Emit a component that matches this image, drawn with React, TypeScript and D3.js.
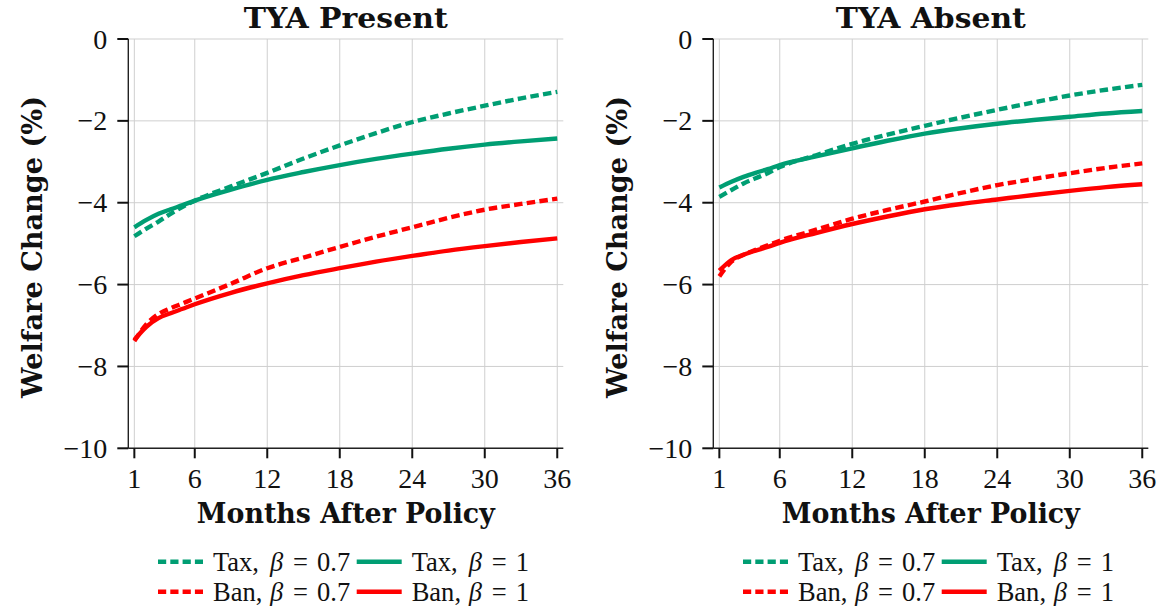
import React from "react";
import * as d3 from "d3";

const months = [1, 2, 3, 4, 5, 6, 9, 12, 15, 18, 21, 24, 27, 30, 33, 36];

// TYA Present
const presentTax07 = [-4.82, -4.63, -4.46, -4.27, -4.1, -3.95, -3.6, -3.27, -2.92, -2.6, -2.3, -2.03, -1.82, -1.63, -1.45, -1.29];
const presentTax1 = [-4.6, -4.42, -4.27, -4.16, -4.06, -3.95, -3.68, -3.44, -3.25, -3.08, -2.93, -2.8, -2.68, -2.58, -2.5, -2.43];
const presentBan07 = [-7.38, -6.97, -6.72, -6.58, -6.46, -6.34, -5.98, -5.6, -5.34, -5.08, -4.83, -4.6, -4.37, -4.17, -4.03, -3.9];
const presentBan1 = [-7.35, -7.03, -6.82, -6.7, -6.59, -6.48, -6.2, -5.97, -5.77, -5.6, -5.44, -5.3, -5.17, -5.06, -4.96, -4.87];

// TYA Absent
const absentTax07 = [-3.86, -3.69, -3.53, -3.4, -3.28, -3.13, -2.84, -2.56, -2.33, -2.12, -1.92, -1.73, -1.55, -1.38, -1.24, -1.12];
const absentTax1 = [-3.63, -3.49, -3.37, -3.27, -3.18, -3.08, -2.87, -2.67, -2.48, -2.31, -2.18, -2.07, -1.98, -1.9, -1.82, -1.76];
const absentBan07 = [-5.8, -5.44, -5.27, -5.15, -5.04, -4.93, -4.66, -4.39, -4.17, -3.97, -3.76, -3.57, -3.42, -3.28, -3.15, -3.04];
const absentBan1 = [-5.66, -5.4, -5.27, -5.17, -5.08, -4.98, -4.74, -4.52, -4.33, -4.16, -4.03, -3.92, -3.81, -3.71, -3.62, -3.55];

const panelTitles = ["TYA Present", "TYA Absent"];
const xTicks = [1, 6, 12, 18, 24, 30, 36];
const yTicks = [0, -2, -4, -6, -8, -10];
const seriesNames = ["Tax", "Tax", "Ban", "Ban"];
const seriesBetas = ["0.7", "1", "0.7", "1"];

const GREEN = "#009E73";
const RED = "#FF0000";

type Series = { values: number[]; color: string; dashed: boolean; name: string; beta: string };

const makeSeries = (a: number[], b: number[], c: number[], d: number[]): Series[] => [
  { values: a, color: GREEN, dashed: true, name: seriesNames[0], beta: seriesBetas[0] },
  { values: b, color: GREEN, dashed: false, name: seriesNames[1], beta: seriesBetas[1] },
  { values: c, color: RED, dashed: true, name: seriesNames[2], beta: seriesBetas[2] },
  { values: d, color: RED, dashed: false, name: seriesNames[3], beta: seriesBetas[3] },
];

const panels = [
  { title: panelTitles[0], series: makeSeries(presentTax07, presentTax1, presentBan07, presentBan1) },
  { title: panelTitles[1], series: makeSeries(absentTax07, absentTax1, absentBan07, absentBan1) },
];

const REG = "Liberation Serif, Times New Roman, serif";
const BOLD = "DejaVu Serif, serif";
const fmt = (v: number) => (v < 0 ? "\u2212" + Math.abs(v) : String(v));
const DASH = "8.5 4.3";

function Panel({ title, series, dx }: { title: string; series: Series[]; dx: number }) {
  const x = d3.scaleLinear().domain([0.5, 36.5]).range([128.3 + dx, 563.3 + dx]);
  const y = d3.scaleLinear().domain([-10, 0]).range([448.3, 39]);
  const line = d3
    .line<number>()
    .x((_, i) => x(months[i]))
    .y((v) => y(v))
    .curve(d3.curveMonotoneX);
  const [x0, x1] = x.range();
  const [yb, yt] = y.range();
  const cx = (x0 + x1) / 2;
  const legendRows = [
    [series[0], series[1]],
    [series[2], series[3]],
  ];
  return (
    <g>
      {/* grid */}
      {xTicks.map((t) => (
        <line key={"gx" + t} x1={x(t)} x2={x(t)} y1={yt} y2={yb} stroke="#cfcfcf" strokeWidth={1} />
      ))}
      {yTicks.map((t) => (
        <line key={"gy" + t} x1={x0} x2={x1} y1={y(t)} y2={y(t)} stroke="#cfcfcf" strokeWidth={1} />
      ))}
      {/* lines */}
      {series.map((s, i) => (
        <path
          key={i}
          d={line(s.values) || ""}
          fill="none"
          stroke={s.color}
          strokeWidth={4.4}
          strokeDasharray={s.dashed ? DASH : undefined}
          strokeLinejoin="round"
        />
      ))}
      {/* spines */}
      <line x1={x0} x2={x0} y1={yt} y2={yb} stroke="#222" strokeWidth={1.4} />
      <line x1={x0} x2={x1} y1={yb} y2={yb} stroke="#222" strokeWidth={1.4} />
      {/* ticks */}
      {xTicks.map((t) => (
        <g key={"tx" + t}>
          <line x1={x(t)} x2={x(t)} y1={yb} y2={yb + 10} stroke="#111" strokeWidth={2} />
          <text x={x(t)} y={488} textAnchor="middle" fontFamily={REG} fontSize={28} fill="#111">
            {t}
          </text>
        </g>
      ))}
      {yTicks.map((t) => (
        <g key={"ty" + t}>
          <line x1={x0 - 11} x2={x0} y1={y(t)} y2={y(t)} stroke="#111" strokeWidth={2} />
          <text x={x0 - 21} y={y(t) + 9.5} textAnchor="end" fontFamily={REG} fontSize={28} fill="#111">
            {fmt(t)}
          </text>
        </g>
      ))}
      {/* title */}
      <text
        x={cx}
        y={28}
        textAnchor="middle"
        fontFamily={BOLD}
        fontWeight="bold"
        fontSize={28}
        textLength={title.length > 10 ? 204 : 190}
        lengthAdjust="spacingAndGlyphs"
        fill="#111"
      >
        {title}
      </text>
      {/* x label */}
      <text
        x={cx}
        y={523}
        textAnchor="middle"
        fontFamily={BOLD}
        fontWeight="bold"
        fontSize={28}
        textLength={298}
        lengthAdjust="spacingAndGlyphs"
        fill="#111"
      >
        Months After Policy
      </text>
      {/* y label */}
      <text
        transform={`translate(${41.5 + dx},247) rotate(-90)`}
        textAnchor="middle"
        fontFamily={BOLD}
        fontWeight="bold"
        fontSize={28}
        textLength={302}
        lengthAdjust="spacingAndGlyphs"
        fill="#111"
      >
        Welfare Change (%)
      </text>
      {/* legend */}
      {legendRows.map((row, r) =>
        row.map((s, c) => {
          const lx = 158 + dx + c * 198.7;
          const ly = 561.7 + r * 30;
          const tx = lx + 55;
          const ty = ly + 9;
          return (
            <g key={"lg" + r + c} fontFamily={REG} fontSize={26.5} fill="#111">
              <line
                x1={lx}
                x2={lx + 45}
                y1={ly}
                y2={ly}
                stroke={s.color}
                strokeWidth={4.4}
                strokeDasharray={s.dashed ? "8.2 4.1" : undefined}
              />
              <text x={tx} y={ty}>{s.name},</text>
              <text x={tx + 57} y={ty} fontStyle="italic">β</text>
              <text x={tx + 80} y={ty}>=</text>
              <text x={tx + 104} y={ty}>{s.beta}</text>
            </g>
          );
        })
      )}
    </g>
  );
}

export default function App() {
  return (
    <div style={{ position: "absolute", left: 0, top: 0 }}>
      <svg width={1164} height={606} viewBox="0 0 1164 606" style={{ display: "block", background: "#fff" }}>
        <rect width={1164} height={606} fill="#fff" />
        {panels.map((p, i) => (
          <Panel key={i} title={p.title} series={p.series} dx={i * 585} />
        ))}
      </svg>
    </div>
  );
}
